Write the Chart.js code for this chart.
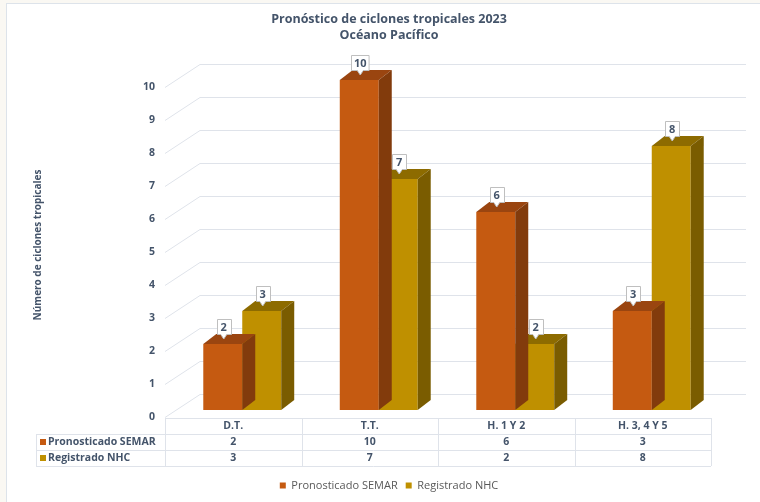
<!DOCTYPE html>
<html>
<head>
<meta charset="utf-8">
<script src="https://cdn.jsdelivr.net/npm/chart.js@4.4.0/dist/chart.umd.min.js"></script>
<style>
  html, body { margin: 0; padding: 0; background: #faf8f3; }
  body { width: 760px; height: 502px; position: relative; overflow: hidden; }
  #frame { position: absolute; left: 6px; top: 3px; right: 0; bottom: 0; background: #fff;
           border-left: 1px solid #dde3ea; border-top: 1px solid #dde3ea; }
  #myChart { position: absolute; left: 0; top: 0; }
</style>
</head>
<body>
<div id="frame"></div>
<canvas id="myChart" width="760" height="502"></canvas>
<script>
const categories = ['D.T.', 'T.T.', 'H. 1 Y 2', 'H. 3, 4 Y 5'];
const semarValues = [2, 10, 6, 3];
const nhcValues = [3, 7, 2, 8];
const seriesNames = ['Pronosticado SEMAR', 'Registrado NHC'];
const yTicks = [0, 1, 2, 3, 4, 5, 6, 7, 8, 9, 10];

const frontColors = ['#c55a11', '#bf9000'];
const topColors = ['#9a4510', '#8d6b00'];
const sideColors = ['#823b0c', '#7a5c00'];
const textColor = '#44546a';

// 3d look
const DX = 13, DY = -10;          // depth of a bar
const WALL_X = 35, WALL_Y = -23;  // depth of floor / back wall
const SHIFT = 9;                  // bars sit this far in from the front plane
const ROW_HEAD_LEFT = 36;

Chart.defaults.font.family = "'Open Sans', sans-serif";

function colLeft(chart, i) {
    const area = chart.chartArea;
    return area.left - SHIFT + i * area.width / categories.length;
}

const threeD = {
    id: 'threeD',
    beforeDatasetsDraw(chart) {
        const { ctx, scales: { y } } = chart;
        const left = colLeft(chart, 0);
        const right = colLeft(chart, categories.length);
        ctx.save();
        ctx.strokeStyle = '#dfe3ea';
        ctx.lineWidth = 1;
        y.ticks.forEach(t => {
            const py = Math.round(y.getPixelForValue(t.value) + 7) + 0.5;
            ctx.beginPath();
            ctx.moveTo(left, py);
            ctx.lineTo(left + WALL_X, py + WALL_Y);
            ctx.lineTo(right + WALL_X, py + WALL_Y);
            ctx.stroke();
        });
        ctx.restore();
    },
    afterDatasetDraw(chart, args) {
        const ctx = chart.ctx;
        const i = args.index;
        ctx.save();
        args.meta.data.forEach(bar => {
            const l = bar.x - bar.width / 2, r = bar.x + bar.width / 2;
            const t = bar.y, b = bar.base;
            ctx.fillStyle = topColors[i];
            ctx.beginPath();
            ctx.moveTo(l, t); ctx.lineTo(l + DX, t + DY); ctx.lineTo(r + DX, t + DY); ctx.lineTo(r, t);
            ctx.closePath(); ctx.fill();
            ctx.fillStyle = sideColors[i];
            ctx.beginPath();
            ctx.moveTo(r, t); ctx.lineTo(r + DX, t + DY); ctx.lineTo(r + DX, b + DY); ctx.lineTo(r, b);
            ctx.closePath(); ctx.fill();
        });
        ctx.restore();
    },
    afterDraw(chart) {
        const { ctx, chartArea } = chart;
        const n = categories.length;
        const top = chartArea.bottom + 8, rowH = 16;
        const right = colLeft(chart, n);
        ctx.save();
        ctx.strokeStyle = '#dfe3ea';
        ctx.lineWidth = 1;
        ctx.beginPath();
        for (let k = 0; k <= 3; k++) {
            const yy = Math.round(top + k * rowH) + 0.5;
            ctx.moveTo(k === 0 ? colLeft(chart, 0) : ROW_HEAD_LEFT, yy);
            ctx.lineTo(right, yy);
        }
        for (let i = 0; i <= n; i++) {
            const xx = Math.round(colLeft(chart, i)) + 0.5;
            ctx.moveTo(xx, top);
            ctx.lineTo(xx, top + 3 * rowH);
        }
        ctx.moveTo(ROW_HEAD_LEFT + 0.5, top + rowH);
        ctx.lineTo(ROW_HEAD_LEFT + 0.5, top + 3 * rowH);
        ctx.stroke();

        // row headers
        ctx.font = "bold 10.5px 'Open Sans', sans-serif";
        ctx.textBaseline = 'middle';
        ctx.textAlign = 'left';
        seriesNames.forEach((name, k) => {
            const cy = top + (k + 1.5) * rowH;
            ctx.fillStyle = frontColors[k];
            ctx.fillRect(ROW_HEAD_LEFT + 4, cy - 3, 6, 6);
            ctx.fillStyle = textColor;
            ctx.fillText(name, ROW_HEAD_LEFT + 12, cy);
        });

        // data labels
        ctx.font = "bold 11px 'Open Sans', sans-serif";
        ctx.textAlign = 'center';
        chart.data.datasets.forEach((ds, di) => {
            chart.getDatasetMeta(di).data.forEach((bar, j) => {
                const txt = String(ds.data[j]);
                const tipX = bar.x + 1, tipY = bar.y - 5;
                const w = Math.max(14, ctx.measureText(txt).width + 5), h = 15;
                const bx = Math.round(tipX - w / 2) + 0.5, by = Math.round(tipY - 5 - h) + 0.5;
                ctx.beginPath();
                ctx.moveTo(bx, by);
                ctx.lineTo(bx + w, by);
                ctx.lineTo(bx + w, by + h);
                ctx.lineTo(tipX + 3, by + h);
                ctx.lineTo(tipX, tipY);
                ctx.lineTo(tipX - 3, by + h);
                ctx.lineTo(bx, by + h);
                ctx.closePath();
                ctx.fillStyle = '#fff';
                ctx.fill();
                ctx.strokeStyle = '#bfbfbf';
                ctx.stroke();
                ctx.fillStyle = textColor;
                ctx.fillText(txt, tipX, by + h / 2 + 0.5);
            });
        });
        ctx.restore();
    }
};

const data = {
    labels: categories,
    datasets: [{
        label: seriesNames[0],
        data: semarValues,
        backgroundColor: frontColors[0],
        borderWidth: 0
    }, {
        label: seriesNames[1],
        data: nhcValues,
        backgroundColor: frontColors[1],
        borderWidth: 0
    }]
};

const config = {
    type: 'bar',
    data: data,
    plugins: [threeD],
    options: {
        responsive: false,
        animation: false,
        devicePixelRatio: 1,
        barPercentage: 1,
        categoryPercentage: 0.571,
        layout: { padding: { left: 22, right: 4, top: 9, bottom: 1 } },
        plugins: {
            title: {
                display: true,
                text: ['Pronóstico de ciclones tropicales 2023', 'Océano Pacífico'],
                color: textColor,
                font: { size: 12.5, weight: 'bold', lineHeight: 1.28 },
                padding: { top: 2, bottom: 37 }
            },
            legend: {
                position: 'bottom',
                labels: {
                    boxWidth: 6,
                    boxHeight: 6,
                    color: '#595959',
                    font: { size: 11 },
                    padding: 8
                }
            },
            tooltip: { enabled: false }
        },
        scales: {
            x: {
                grid: { display: false, drawTicks: false },
                border: { display: false },
                ticks: {
                    color: textColor,
                    font: { size: 10.5, weight: 'bold', lineHeight: 1.524 },
                    labelOffset: -SHIFT,
                    padding: 8,
                    maxRotation: 0,
                    autoSkip: false,
                    callback: (v, i) => [categories[i], String(semarValues[i]), String(nhcValues[i])]
                },
                afterFit: s => { s.height = 62; }
            },
            y: {
                min: 0,
                max: 10,
                afterBuildTicks: s => { s.ticks = yTicks.map(v => ({ value: v })); },
                grid: { display: false, drawTicks: false },
                border: { display: false },
                ticks: {
                    color: textColor,
                    font: { size: 10.5, weight: 'bold' },
                    labelOffset: 7,
                    padding: 19
                },
                title: {
                    display: true,
                    text: 'Número de ciclones tropicales',
                    color: textColor,
                    font: { size: 10, weight: 'bold' },
                    padding: { top: 10, bottom: 0 }
                },
                afterFit: s => { s.width = 152; }
            },
            yR: {
                position: 'right',
                display: true,
                grid: { display: false, drawTicks: false },
                border: { display: false },
                ticks: { display: false },
                afterFit: s => { s.width = 36; }
            }
        }
    }
};

const myChart = new Chart(document.getElementById('myChart'), config);
</script>
</body>
</html>
